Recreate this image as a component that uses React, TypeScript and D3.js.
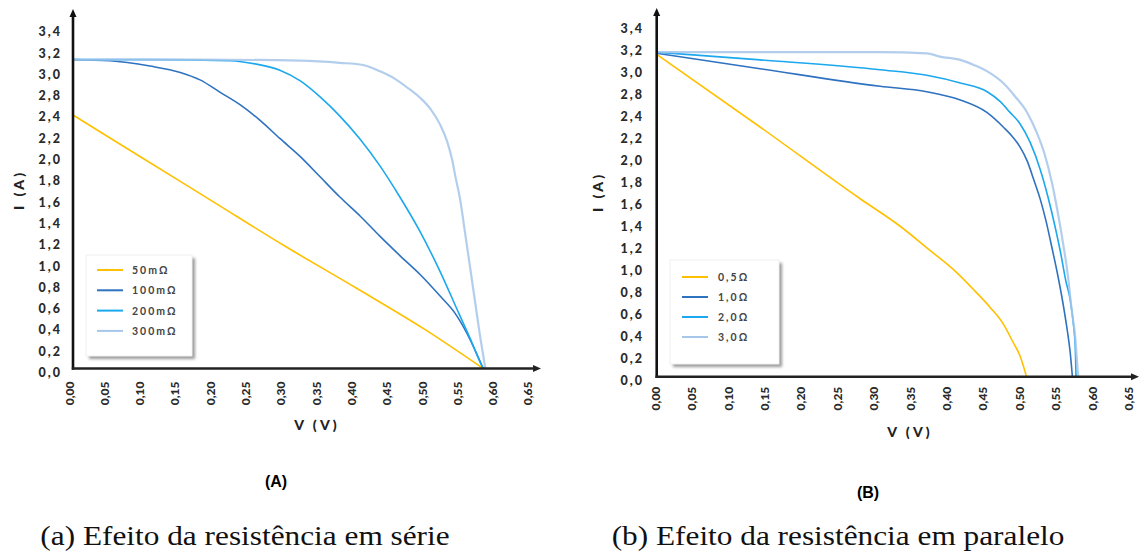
import { useEffect, useRef } from 'react';
import * as d3 from 'd3';

// eixos (a figura original pula o 2,6 no eixo da corrente)
const yTickVals = [0, 0.2, 0.4, 0.6, 0.8, 1.0, 1.2, 1.4, 1.6, 1.8, 2.0, 2.2, 2.4, 2.8, 3.0, 3.2, 3.4];
const yTickLabels = ['0,0', '0,2', '0,4', '0,6', '0,8', '1,0', '1,2', '1,4', '1,6', '1,8', '2,0', '2,2', '2,4', '2,8', '3,0', '3,2', '3,4'];
const xTickVals = [0, 0.05, 0.1, 0.15, 0.2, 0.25, 0.3, 0.35, 0.4, 0.45, 0.5, 0.55, 0.6, 0.65];
const xTickLabels = ['0,00', '0,05', '0,10', '0,15', '0,20', '0,25', '0,30', '0,35', '0,40', '0,45', '0,50', '0,55', '0,60', '0,65'];

const colors = ['#FFC000', '#2E72C0', '#1CA8EE', '#A6C6EA'];

// (A) resistencia em serie
const serieNames = ['50mΩ', '100mΩ', '200mΩ', '300mΩ'];
const s50V = [0, 0.1, 0.2, 0.3, 0.4, 0.5, 0.581];
const s50I = [2.38, 1.97, 1.56, 1.15, 0.76, 0.36, 0];
const s100V = [0, 0.052, 0.109, 0.152, 0.18, 0.208, 0.237, 0.265, 0.293, 0.322, 0.35, 0.378, 0.407, 0.435, 0.463, 0.492, 0.52, 0.541, 0.558, 0.581];
const s100I = [3.1, 3.09, 3.04, 2.98, 2.91, 2.79, 2.55, 2.33, 2.16, 1.99, 1.8, 1.61, 1.43, 1.24, 1.06, 0.88, 0.68, 0.52, 0.33, 0];
const s200V = [0, 0.109, 0.222, 0.258, 0.293, 0.322, 0.35, 0.378, 0.407, 0.435, 0.463, 0.492, 0.52, 0.547, 0.562, 0.576, 0.581];
const s200I = [3.1, 3.1, 3.09, 3.06, 3.0, 2.9, 2.7, 2.37, 2.15, 1.9, 1.61, 1.28, 0.91, 0.51, 0.29, 0.07, 0];
const s300V = [0, 0.18, 0.322, 0.378, 0.411, 0.435, 0.456, 0.477, 0.492, 0.506, 0.52, 0.53, 0.537, 0.542, 0.548, 0.555, 0.562, 0.569, 0.576, 0.584];
const s300I = [3.1, 3.1, 3.09, 3.07, 3.05, 2.99, 2.92, 2.82, 2.68, 2.48, 2.29, 2.13, 1.96, 1.79, 1.6, 1.29, 0.97, 0.65, 0.33, 0];

// (B) resistencia em paralelo
const paraleloNames = ['0,5Ω', '1,0Ω', '2,0Ω', '3,0Ω'];
const p05V = [0, 0.142, 0.279, 0.334, 0.375, 0.41, 0.437, 0.458, 0.476, 0.489, 0.499, 0.508];
const p05I = [3.13, 2.27, 1.62, 1.37, 1.15, 0.96, 0.78, 0.63, 0.48, 0.32, 0.19, 0];
const p10V = [0, 0.142, 0.307, 0.371, 0.417, 0.454, 0.476, 0.489, 0.499, 0.509, 0.518, 0.527, 0.535, 0.543, 0.551, 0.558, 0.564, 0.568, 0.571];
const p10I = [3.14, 3.0, 2.84, 2.78, 2.63, 2.4, 2.27, 2.18, 2.09, 1.96, 1.79, 1.61, 1.41, 1.17, 0.92, 0.67, 0.42, 0.22, 0];
const p20V = [0, 0.142, 0.307, 0.371, 0.417, 0.454, 0.472, 0.485, 0.499, 0.513, 0.527, 0.538, 0.547, 0.555, 0.562, 0.568, 0.572, 0.575, 0.576];
const p20I = [3.15, 3.08, 2.99, 2.94, 2.87, 2.78, 2.6, 2.41, 2.3, 2.13, 1.88, 1.62, 1.37, 1.12, 0.87, 0.7, 0.5, 0.26, 0];
const p30V = [0, 0.307, 0.371, 0.389, 0.417, 0.437, 0.458, 0.476, 0.492, 0.509, 0.522, 0.533, 0.543, 0.551, 0.558, 0.565, 0.57, 0.575, 0.577, 0.579];
const p30I = [3.15, 3.15, 3.14, 3.11, 3.08, 3.03, 2.96, 2.87, 2.7, 2.4, 2.22, 2.02, 1.76, 1.49, 1.22, 0.91, 0.61, 0.35, 0.17, 0];

const panels = [
  {
    x0: 73, y0: 368.5, xUnit: 706, yStep: 21.3, xEnd: 541, yTop: 9,
    xLabDx: -4, xLabGap: 13, yLabX: 60,
    legend: { x: 86, y: 255, w: 106, h: 101, first: 270, step: 20.3, lx: 97, tx: 132 },
    names: serieNames,
    series: [[s50V, s50I], [s100V, s100I], [s200V, s200I], [s300V, s300I]],
    vTitle: [317, 430], iTitle: [18, 190],
    tag: [276, 487, '(A)'],
    caption: [245, 545, '(a) Efeito da resistência em série'],
  },
  {
    x0: 656.7, y0: 376.7, xUnit: 728, yStep: 22, xEnd: 1139, yTop: 8,
    xLabDx: -1.5, xLabGap: 10, yLabX: 642,
    legend: { x: 670, y: 260, w: 109, h: 104, first: 277, step: 20, lx: 682, tx: 718 },
    names: paraleloNames,
    series: [[p05V, p05I], [p10V, p10I], [p20V, p20I], [p30V, p30I]],
    vTitle: [910, 437], iTitle: [597, 192],
    tag: [868, 498, '(B)'],
    caption: [838, 545, '(b) Efeito da resistência em paralelo'],
  },
];

const tickFont = 'Lato, "DejaVu Sans", sans-serif';

const App = () => {
  const svgRef = useRef(null);

  useEffect(() => {
    const svg = d3.select(svgRef.current);
    svg.selectAll('*').remove();

    const defs = svg.append('defs');
    const f = defs.append('filter').attr('id', 'sombra').attr('x', '-20%').attr('y', '-20%').attr('width', '140%').attr('height', '140%');
    f.append('feGaussianBlur').attr('stdDeviation', 1.6);

    panels.forEach((p) => {
      const g = svg.append('g');

      const x = d3.scaleLinear().domain([0, 0.65]).range([p.x0, p.x0 + 0.65 * p.xUnit]);
      // escala por partes, pra acompanhar os rotulos (sem o 2,6)
      const y = d3.scaleLinear()
        .domain([0, 2.4, 2.8, 3.4])
        .range([p.y0, p.y0 - 12 * p.yStep, p.y0 - 13 * p.yStep, p.y0 - 16 * p.yStep]);

      // rotulos do eixo Y
      g.selectAll('.ylab')
        .data(yTickVals)
        .join('text')
        .attr('x', p.yLabX + 2)
        .attr('y', (d) => y(d) + 4)
        .attr('text-anchor', 'end')
        .attr('dominant-baseline', 'central')
        .style('font-family', tickFont)
        .style('font-weight', 900)
        .style('font-size', '12.5px')
        .style('letter-spacing', '2px')
        .attr('fill', '#2a2a2a')
        .text((d, i) => yTickLabels[i]);

      // rotulos do eixo X (girados)
      g.selectAll('.xlab')
        .data(xTickVals)
        .join('text')
        .attr('transform', (d) => `translate(${x(d) + p.xLabDx},${p.y0 + p.xLabGap}) rotate(-90)`)
        .attr('text-anchor', 'end')
        .attr('dominant-baseline', 'central')
        .style('font-family', tickFont)
        .style('font-weight', 900)
        .style('font-size', '12px')
        .attr('fill', '#2a2a2a')
        .text((d, i) => xTickLabels[i]);

      // legenda
      const lg = p.legend;
      g.append('rect')
        .attr('x', lg.x + 3).attr('y', lg.y + 3)
        .attr('width', lg.w).attr('height', lg.h)
        .attr('fill', '#9a9a9a')
        .attr('filter', 'url(#sombra)');
      g.append('rect')
        .attr('x', lg.x).attr('y', lg.y)
        .attr('width', lg.w).attr('height', lg.h)
        .attr('fill', '#fff')
        .attr('stroke', '#f0f0f0');
      p.names.forEach((n, i) => {
        const yy = lg.first + i * lg.step;
        g.append('line')
          .attr('x1', lg.lx).attr('x2', lg.lx + 26)
          .attr('y1', yy).attr('y2', yy)
          .attr('stroke', colors[i])
          .attr('stroke-width', 2);
        g.append('text')
          .attr('x', lg.tx).attr('y', yy)
          .attr('dominant-baseline', 'central')
          .style('font-family', tickFont)
          .style('font-weight', 700)
          .style('font-size', '10.5px')
          .style('letter-spacing', '2px')
          .attr('fill', '#444')
          .text(n);
      });

      // curvas I-V
      const line = d3.line()
        .x((d) => x(d[0]))
        .y((d) => y(d[1]))
        .curve(d3.curveMonotoneX);

      p.series.forEach(([vs, is], i) => {
        const pts = vs.map((v, k) => [v, is[k]]);
        g.append('path')
          .attr('d', line(pts))
          .attr('fill', 'none')
          .attr('stroke', colors[i])
          .attr('stroke-width', i === 3 ? 2.2 : 1.6)
          .attr('stroke-opacity', i === 3 ? 0.85 : 1)
          .attr('stroke-linejoin', 'round');
      });

      // eixos com setas
      g.append('line')
        .attr('x1', p.x0).attr('x2', p.x0)
        .attr('y1', p.y0 + 1.2).attr('y2', p.yTop + 4)
        .attr('stroke', '#111').attr('stroke-width', 2.6);
      g.append('line')
        .attr('x1', p.x0 - 1.2).attr('x2', p.xEnd - 4)
        .attr('y1', p.y0).attr('y2', p.y0)
        .attr('stroke', '#222').attr('stroke-width', 2.6);
      g.append('path')
        .attr('d', `M${p.x0 - 3.5},${p.yTop + 8}L${p.x0},${p.yTop}L${p.x0 + 3.5},${p.yTop + 8}Z`)
        .attr('fill', '#111');
      g.append('path')
        .attr('d', `M${p.xEnd - 8},${p.y0 - 3.5}L${p.xEnd},${p.y0}L${p.xEnd - 8},${p.y0 + 3.5}Z`)
        .attr('fill', '#222');

      // titulos dos eixos
      g.append('text')
        .attr('x', p.vTitle[0]).attr('y', p.vTitle[1])
        .attr('text-anchor', 'middle')
        .style('font-family', tickFont)
        .style('font-weight', 900)
        .style('font-size', '14px')
        .style('letter-spacing', '3px')
        .attr('fill', '#222')
        .text('V (V)');
      g.append('text')
        .attr('transform', `translate(${p.iTitle[0]},${p.iTitle[1]}) rotate(-90)`)
        .attr('text-anchor', 'middle')
        .attr('dominant-baseline', 'central')
        .style('font-family', tickFont)
        .style('font-weight', 900)
        .style('font-size', '14px')
        .style('letter-spacing', '3px')
        .attr('fill', '#222')
        .text('I (A)');

      g.append('text')
        .attr('x', p.tag[0]).attr('y', p.tag[1])
        .attr('text-anchor', 'middle')
        .style('font-family', '"Liberation Sans", Arial, sans-serif')
        .style('font-weight', 700)
        .style('font-size', '16px')
        .attr('fill', '#000')
        .text(p.tag[2]);

      // legenda da figura (fonte mais larga, como no LaTeX)
      g.append('text')
        .attr('transform', `translate(${p.caption[0]},${p.caption[1]}) scale(1.16,1)`)
        .attr('text-anchor', 'middle')
        .style('font-family', '"Liberation Serif", "Times New Roman", serif')
        .style('font-size', '27px')
        .attr('fill', '#111')
        .text(p.caption[2]);
    });
  }, []);

  return (
    <div style={{ position: 'absolute', left: 0, top: 0, background: '#fff' }}>
      <svg ref={svgRef} width={1143} height={554} style={{ display: 'block' }}></svg>
    </div>
  );
};

export default App;
